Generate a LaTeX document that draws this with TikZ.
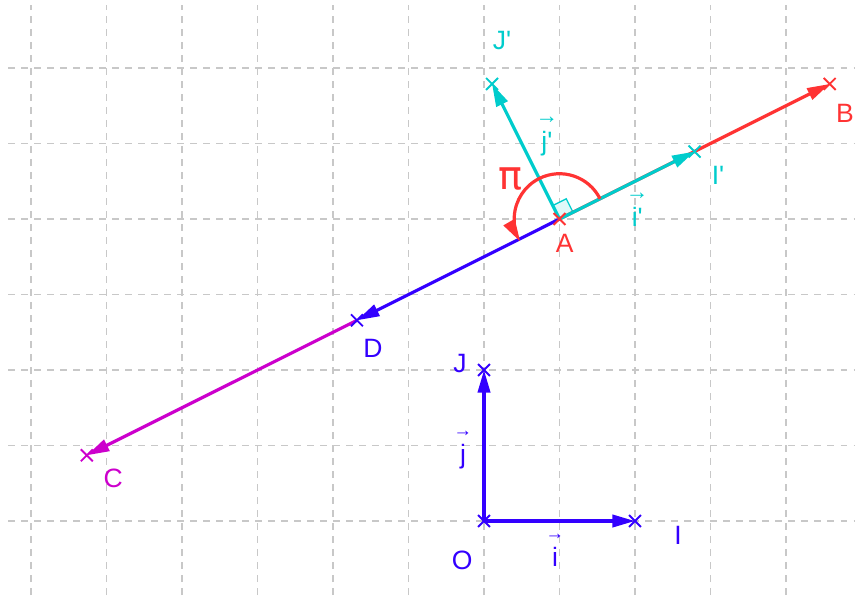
\documentclass[tikz,border=0pt]{standalone}
\usepackage{fontspec}
\setmainfont{Liberation Sans}[Ligatures=TeXOff]
\newfontfamily\pifont{DejaVu Sans}
\usetikzlibrary{arrows.meta,shapes.misc}
\definecolor{cred}{RGB}{255,51,51}
\definecolor{ccyan}{RGB}{0,204,204}
\definecolor{cblue}{RGB}{51,0,255}
\definecolor{cmag}{RGB}{204,0,204}
\definecolor{cgrid}{RGB}{200,200,200}
\begin{document}
\begin{tikzpicture}[x=1cm,y=1cm,
  gridline/.style={draw=cgrid, line width=0.55pt, dash pattern=on 2.6pt off 2.3pt},
  vecline/.style={line width=1.2pt, -{Triangle[length=8.5pt,width=4.6pt]}},
  lbl/.style={font=\fontsize{10}{12}\selectfont, inner sep=0pt},
  veclbl/.style={font=\fontsize{10}{12}\selectfont, inner sep=0pt, align=center},
  xm/.style={cross out, draw=#1, minimum size=3.8pt, inner sep=0pt, line width=0.7pt}]
\useasboundingbox (-6.411,-0.980) rectangle (4.914,6.901);
% grid
\foreach \x in {-6,...,4} \draw[gridline] (\x,-0.98) -- (\x,6.83);
\foreach \y in {0,...,6} \draw[gridline] (-6.3,\y) -- (4.914,\y);
% points
\coordinate (Ac) at (1,4);
\coordinate (Oc) at (0,0);
\coordinate (Ic) at (2,0);
\coordinate (Jc) at (0,2);
\coordinate (Ipc) at (2.789,4.894);
\coordinate (Jpc) at (0.106,5.789);
\coordinate (Bc) at (4.578,5.789);
\coordinate (Dc) at (-1.683,2.658);
\coordinate (Cc) at (-5.261,0.870);
% right angle mark
\draw[ccyan, fill=ccyan!12, line width=0.5pt] (Ac) -- ++(26.57:0.2) -- ++(116.57:0.2) -- ++(206.57:0.2) -- cycle;
% vectors
\draw[vecline, cred] (Ac) -- (Bc);
\draw[vecline, cmag] (Dc) -- (Cc);
\draw[vecline, cblue] (Ac) -- (Dc);
\draw[vecline, ccyan] (Ac) -- (Ipc);
\draw[vecline, ccyan] (Ac) -- (Jpc);
\draw[vecline, cblue] (Oc) -- (Ic);
\draw[vecline, cblue] (Oc) -- (Jc);
% angle arc
\draw[cred, line width=1.2pt, -{Triangle[length=8.5pt,width=4.6pt]}] ([shift={(26.57:0.6)}]Ac) arc[start angle=26.57, end angle=210, radius=0.6];
% crosses
\node[xm=cred] (A) at (Ac) {};
\node[xm=cred] (B) at (Bc) {};
\node[xm=ccyan] (Ip) at (Ipc) {};
\node[xm=ccyan] (Jp) at (Jpc) {};
\node[xm=cblue] (D) at (Dc) {};
\node[xm=cmag] (C) at (Cc) {};
\node[xm=cblue] (O) at (Oc) {};
\node[xm=cblue] (I) at (Ic) {};
\node[xm=cblue] (J) at (Jc) {};
% labels
\node[lbl, text=ccyan] (lJp) at (0.238,6.37) {J'};
\node[veclbl, text=ccyan] (ljp) at (0.834,5.09) {{\fontsize{8.5}{8.5}\selectfont →}\\[-2pt]j'};
\node[lbl, text=cred] (lpi) at (0.344,4.53) {\pifont\fontsize{15}{15}\selectfont π};
\node[lbl, text=cred] (lA) at (1.07,3.68) {A};
\node[lbl, text=ccyan] (lIp) at (3.10,4.58) {I'};
\node[veclbl, text=ccyan] (lip) at (2.03,4.12) {{\fontsize{8.5}{8.5}\selectfont →}\\[-2pt]i'};
\node[lbl, text=cred] (lB) at (4.78,5.40) {B};
\node[lbl, text=cblue] (lD) at (-1.47,2.29) {D};
\node[lbl, text=cmag] (lC) at (-4.91,0.57) {C};
\node[lbl, text=cblue] (lJ) at (-0.318,2.09) {J};
\node[veclbl, text=cblue] (lj) at (-0.278,0.94) {{\fontsize{7}{7}\selectfont →}\\[-2pt]j};
\node[lbl, text=cblue] (lO) at (-0.29,-0.52) {O};
\node[veclbl, text=cblue] (li) at (0.94,-0.39) {{\fontsize{7}{7}\selectfont →}\\[-2pt]i};
\node[lbl, text=cblue] (lI) at (2.57,-0.19) {I};
\end{tikzpicture}
\end{document}
